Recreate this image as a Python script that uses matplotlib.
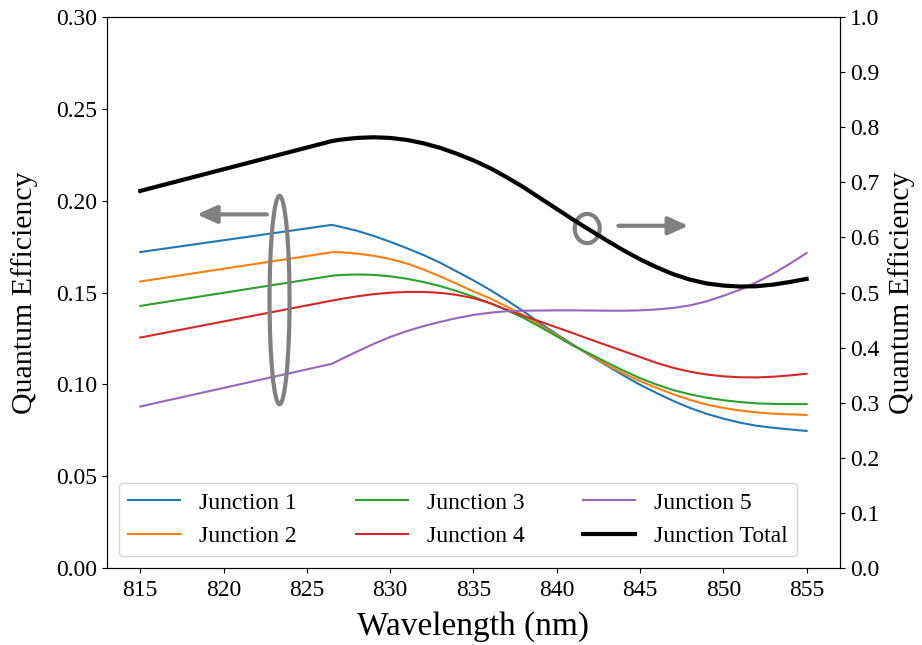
import matplotlib
matplotlib.use("Agg")
import matplotlib.pyplot as plt
import numpy as np
from matplotlib.patches import Ellipse

plt.rcParams['font.family'] = ['Liberation Serif', 'DejaVu Serif']

wavelength = [815, 826.5, 827, 828, 829, 830, 831, 832, 833, 834, 835, 836, 837, 838, 839,
              840, 841, 842, 843, 844, 845, 846, 847, 848, 849, 850, 851, 852, 853, 854, 855]
junction1 = [0.1720, 0.1868, 0.1858, 0.1836, 0.1808, 0.1776, 0.1741, 0.1704, 0.1662, 0.1614, 0.1566,
             0.1514, 0.1458, 0.1398, 0.1333, 0.1273, 0.1215, 0.1157, 0.1103, 0.1049, 0.0998,
             0.0953, 0.0910, 0.0872, 0.0840, 0.0814, 0.0792, 0.0775, 0.0764, 0.0755, 0.0747]
junction2 = [0.1560, 0.1719, 0.1719, 0.1712, 0.1700, 0.1682, 0.1658, 0.1625, 0.1588, 0.1547, 0.1506,
             0.1468, 0.1424, 0.1376, 0.1322, 0.1268, 0.1212, 0.1160, 0.1107, 0.1060, 0.1018,
             0.0981, 0.0946, 0.0916, 0.0890, 0.0872, 0.0858, 0.0848, 0.0841, 0.0837, 0.0834]
junction3 = [0.1427, 0.1591, 0.1595, 0.1598, 0.1596, 0.1588, 0.1575, 0.1557, 0.1535, 0.1508, 0.1477,
             0.1442, 0.1404, 0.1362, 0.1313, 0.1262, 0.1210, 0.1166, 0.1120, 0.1075, 0.1034,
             0.0999, 0.0969, 0.0946, 0.0928, 0.0914, 0.0904, 0.0897, 0.0894, 0.0893, 0.0893]
junction4 = [0.1255, 0.1456, 0.1464, 0.1479, 0.1491, 0.1499, 0.1503, 0.1503, 0.1498, 0.1487, 0.1469,
             0.1442, 0.1406, 0.1373, 0.1342, 0.1310, 0.1278, 0.1245, 0.1213, 0.1181, 0.1149,
             0.1117, 0.1090, 0.1069, 0.1054, 0.1044, 0.1039, 0.1038, 0.1042, 0.1049, 0.1058]
junction5 = [0.0880, 0.1112, 0.1135, 0.1178, 0.1220, 0.1258, 0.1290, 0.1317, 0.1340, 0.1361, 0.1378,
             0.1390, 0.1398, 0.1401, 0.1402, 0.1403, 0.1403, 0.1402, 0.1401, 0.1401, 0.1403,
             0.1408, 0.1416, 0.1430, 0.1452, 0.1482, 0.1515, 0.1556, 0.1603, 0.1657, 0.1715]
labels = ["Junction 1", "Junction 2", "Junction 3", "Junction 4", "Junction 5"]
total_label = "Junction Total"

junctions = [junction1, junction2, junction3, junction4, junction5]
total = np.sum(np.array(junctions), axis=0)

fig = plt.figure(figsize=(9.22, 6.45), dpi=100)
ax = fig.add_axes([0.116, 0.119, 0.795, 0.855])
ax2 = ax.twinx()

colors = ['#1f77b4', '#ff7f0e', '#2ca02c', '#d62728', '#9467bd']
handles = []
for vals, lab, c in zip(junctions, labels, colors):
    h, = ax.plot(wavelength, vals, color=c, lw=1.5, label=lab)
    handles.append(h)
ht, = ax2.plot(wavelength, total, color='black', lw=3, label=total_label)
handles.append(ht)

ax.set_xlim(813, 857)
ax.set_ylim(0, 0.30)
ax2.set_ylim(0, 1.0)
ax.set_xticks(np.arange(815, 856, 5))
yt = np.arange(0, 0.301, 0.05)
ax.set_yticks(yt)
ax.set_yticklabels([f"{v:.2f}" for v in yt])
yt2 = np.arange(0, 1.01, 0.1)
ax2.set_yticks(yt2)
ax2.set_yticklabels([f"{v:.1f}" for v in yt2])
ax.tick_params(axis='both', labelsize=17)
ax.tick_params(axis='x', pad=5)
ax2.tick_params(labelsize=17)
ax.set_xlabel("Wavelength (nm)", fontsize=24, labelpad=7)
ax.set_ylabel("Quantum Efficiency", fontsize=21.5)
ax2.set_ylabel("Quantum Efficiency", fontsize=21.5)
ax.yaxis.set_label_coords(-0.094, 0.5)
ax2.yaxis.set_label_coords(1.066, 0.5)

# annotations
gray = '#808080'
ax.add_patch(Ellipse((823.36, 0.1459), 1.2, 0.1133, fill=False, ec=gray, lw=3, zorder=5))
ax.add_patch(Ellipse((841.83, 0.1848), 1.5, 0.0159, fill=False, ec=gray, lw=3, zorder=5))
ax.annotate('', xy=(818.4, 0.1925), xytext=(822.6, 0.1925),
            arrowprops=dict(arrowstyle='-|>,head_length=0.6,head_width=0.27', color=gray,
                            lw=3, mutation_scale=20, shrinkA=0, shrinkB=0))
ax.annotate('', xy=(847.9, 0.1863), xytext=(843.7, 0.1863),
            arrowprops=dict(arrowstyle='-|>,head_length=0.6,head_width=0.27', color=gray,
                            lw=3, mutation_scale=20, shrinkA=0, shrinkB=0))

ax.legend(handles, labels + [total_label], loc='lower left', ncol=3, fontsize=17,
          columnspacing=2.5, borderaxespad=0.5, handlelength=2.2)

fig.savefig("out.png", dpi=100)
